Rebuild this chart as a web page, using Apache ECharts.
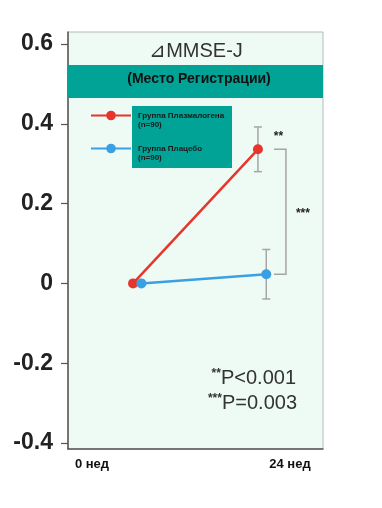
<!DOCTYPE html>
<html>
<head>
<meta charset="utf-8">
<script src="https://cdn.jsdelivr.net/npm/echarts@6/dist/echarts.min.js"></script>
<style>
html,body{margin:0;padding:0;background:#fff;}
#chart{width:382px;height:508px;}
</style>
</head>
<body>
<div id="chart"></div>
<script>
// ---- data ----
const categories = ['0 нед', '24 нед'];
const weeks = [0, 24];
const seriesNames = ['Группа Плазмалогена', 'Группа Плацебо'];
const nLabel = '(n=90)';
const plasmalogenMean = [0, 0.336];
const plasmalogenSE = [0, 0.056];
const placeboMean = [0, 0.023];
const placeboSE = [0, 0.062];
const yTicks = [-0.4, -0.2, 0, 0.2, 0.4, 0.6];
const titleText = '⊿MMSE-J';
const subtitleText = '(Место Регистрации)';
const sigPair = '**';
const sigGroup = '***';
const pLines = [['**', 'P<0.001'], ['***', 'P=0.003']];

// ---- style ----
const RED = '#e8352b';
const BLUE = '#39a0e3';
const TEAL = '#00a396';
const MINT = '#eefbf5';
const FONT = '"Liberation Sans", Arial, Helvetica, sans-serif';
const dodge = 1.6; // horizontal offset of the placebo group (weeks)

const chart = echarts.init(document.getElementById('chart'), null, {renderer: 'canvas'});

const errData = [];
weeks.forEach((w, i) => {
  if (plasmalogenSE[i] > 0) errData.push([w, plasmalogenMean[i], plasmalogenSE[i]]);
  if (placeboSE[i] > 0) errData.push([w + dodge, placeboMean[i], placeboSE[i]]);
});

const last = weeks.length - 1;
const pRich = {
  s: {fontFamily: FONT, fontSize: 12, fontWeight: 'bold', fill: '#333', verticalAlign: 'top', padding: [0, 0, 8, 0]},
  p: {fontFamily: FONT, fontSize: 20, fill: '#333'}
};

const option = {
  animation: false,
  backgroundColor: '#ffffff',
  title: {
    text: titleText,
    left: 196, top: 41, textAlign: 'center', padding: 0,
    textStyle: {fontFamily: FONT, fontSize: 20, fontWeight: 'normal', color: '#333'}
  },
  grid: [
    {left: 68, right: 59, top: 32, bottom: 59, show: true, backgroundColor: MINT,
     borderColor: '#b8b8b8', borderWidth: 1, containLabel: false},
    {left: 92, right: 92, top: 32, bottom: 59, show: false}
  ],
  legend: {
    orient: 'vertical', left: 90, top: 102, padding: 0, itemGap: 6,
    itemWidth: 40, itemHeight: 12,
    data: seriesNames,
    formatter: name => '\n' + name + '\n' + nLabel,
    textStyle: {fontFamily: FONT, fontSize: 8, fontWeight: 'bold', color: '#1a1a1a',
                lineHeight: 9, padding: [0, 0, 0, 2]}
  },
  xAxis: [
    {type: 'value', gridIndex: 0, min: -12.5, max: 36.5,
     axisLine: {show: true, onZero: false, lineStyle: {color: '#555', width: 1.5}},
     axisTick: {show: false}, axisLabel: {show: false}, splitLine: {show: false}},
    {type: 'category', gridIndex: 1, data: categories, boundaryGap: false,
     axisLine: {show: false}, axisTick: {show: false}, splitLine: {show: false},
     axisLabel: {margin: 9, fontFamily: FONT, fontSize: 13, fontWeight: 'bold', color: '#111'}}
  ],
  yAxis: [
    {type: 'value', gridIndex: 0, min: -0.415, max: 0.63,
     axisLine: {show: true, onZero: false, lineStyle: {color: '#555', width: 1.5}},
     axisTick: {show: true, inside: false, length: 7, customValues: yTicks, lineStyle: {color: '#555', width: 1.2}},
     axisLabel: {customValues: yTicks, margin: 15, fontFamily: FONT, fontSize: 23, fontWeight: 'bold', color: '#222',
                 formatter: v => String(+(+v).toFixed(1))},
     splitLine: {show: false}},
    {type: 'value', gridIndex: 1, show: false}
  ],
  graphic: [
    {type: 'rect', z: 1, shape: {x: 68, y: 65, width: 255, height: 33}, style: {fill: TEAL}},
    {type: 'text', z: 2, style: {x: 199, y: 79, text: subtitleText, align: 'center', verticalAlign: 'middle',
      font: 'bold 14px ' + FONT, fill: '#111'}},
    {type: 'rect', z: 1, shape: {x: 132, y: 106, width: 100, height: 62}, style: {fill: TEAL}},
    {type: 'text', z: 2, style: {x: 296, y: 378, align: 'right', verticalAlign: 'middle',
      text: '{s|' + pLines[0][0] + '}{p|' + pLines[0][1] + '}', rich: pRich}},
    {type: 'text', z: 2, style: {x: 297, y: 403, align: 'right', verticalAlign: 'middle',
      text: '{s|' + pLines[1][0] + '}{p|' + pLines[1][1] + '}', rich: pRich}}
  ],
  series: [
    {type: 'custom', name: 'err', xAxisIndex: 0, yAxisIndex: 0, z: 1, silent: true,
     data: errData,
     renderItem: (params, api) => {
       const x = api.value(0), m = api.value(1), s = api.value(2);
       const t = api.coord([x, m + s]), b = api.coord([x, m - s]);
       const st = {stroke: '#a5a5a5', lineWidth: 1.5};
       return {type: 'group', children: [
         {type: 'line', shape: {x1: t[0], y1: t[1], x2: b[0], y2: b[1]}, style: st},
         {type: 'line', shape: {x1: t[0] - 4, y1: t[1], x2: t[0] + 4, y2: t[1]}, style: st},
         {type: 'line', shape: {x1: b[0] - 4, y1: b[1], x2: b[0] + 4, y2: b[1]}, style: st}
       ]};
     }},
    {type: 'custom', name: 'bracket', xAxisIndex: 0, yAxisIndex: 0, z: 1, silent: true,
     data: [[weeks[last], plasmalogenMean[last], placeboMean[last]]],
     renderItem: (params, api) => {
       const p1 = api.coord([api.value(0), api.value(1)]);
       const p2 = api.coord([api.value(0), api.value(2)]);
       const x0 = p1[0] + 16, x1 = p1[0] + 28;
       return {type: 'group', children: [
         {type: 'polyline', shape: {points: [[x0, p1[1]], [x1, p1[1]], [x1, p2[1]], [x0, p2[1]]]},
          style: {stroke: '#a5a5a5', lineWidth: 1.5, fill: null}},
         {type: 'text', style: {x: p1[0] + 20.5, y: p1[1] - 13, text: sigPair, align: 'center', verticalAlign: 'middle',
           font: 'bold 12px ' + FONT, fill: '#222'}},
         {type: 'text', style: {x: x1 + 17, y: (p1[1] + p2[1]) / 2 + 2, text: sigGroup, align: 'center', verticalAlign: 'middle',
           font: 'bold 12px ' + FONT, fill: '#222'}}
       ]};
     }},
    {type: 'line', name: seriesNames[0], xAxisIndex: 0, yAxisIndex: 0, z: 3,
     data: weeks.map((w, i) => [w, plasmalogenMean[i]]),
     symbol: 'circle', symbolSize: 10,
     lineStyle: {color: RED, width: 2.5}, itemStyle: {color: RED}},
    {type: 'line', name: seriesNames[1], xAxisIndex: 0, yAxisIndex: 0, z: 3,
     data: weeks.map((w, i) => [w + dodge, placeboMean[i]]),
     symbol: 'circle', symbolSize: 10,
     lineStyle: {color: BLUE, width: 2.5}, itemStyle: {color: BLUE}}
  ]
};
chart.setOption(option);
</script>
</body>
</html>
